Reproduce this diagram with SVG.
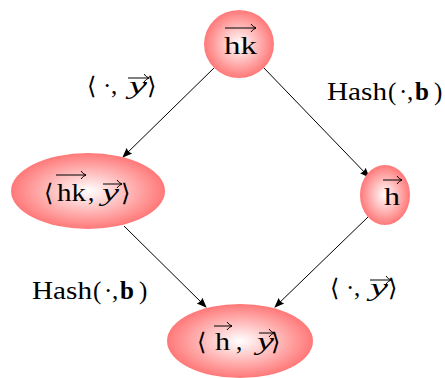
<svg xmlns="http://www.w3.org/2000/svg" width="445" height="378" viewBox="0 0 445 378">
<style>
text{font-family:"Liberation Serif","DejaVu Serif",serif;font-size:25px;fill:#000}
.it{font-style:italic}
.bd{font-weight:bold}
.br{font-family:"DejaVu Serif",serif;font-size:24px}
.ov{stroke:#000;stroke-width:1;fill:none}
.edge{stroke:#000;stroke-width:1;fill:none;marker-end:url(#ah)}
</style>
<defs>
<radialGradient id="g" cx="50%" cy="50%" r="50%">
<stop offset="0" stop-color="#ffffff"/>
<stop offset="1" stop-color="#ff7878"/>
</radialGradient>
<marker id="ah" viewBox="0 0 10 10" refX="9" refY="5" markerWidth="10" markerHeight="10" markerUnits="userSpaceOnUse" orient="auto">
<path d="M0,1 L10,5 L0,9 Q2,5 0,1 Z" fill="#000"/>
</marker>
</defs>
<g id="connectors">
<line class="edge" x1="215" y1="67" x2="123" y2="157"/>
<line class="edge" x1="263" y1="67" x2="369" y2="177"/>
<line class="edge" x1="124" y1="226" x2="206" y2="307"/>
<line class="edge" x1="368" y1="217" x2="275" y2="307"/>
</g>
<g id="node-hk">
<ellipse cx="239" cy="44" rx="35" ry="34" fill="url(#g)"/>
<text x="224" y="54" textLength="33" lengthAdjust="spacingAndGlyphs">hk</text>
<path class="ov" d="M225,28 H256 M251,24 Q253,27 256,28 Q253,29 251,32"/>
</g>
<g id="node-hk-y">
<ellipse cx="88" cy="191" rx="77" ry="38" fill="url(#g)"/>
<text class="br" x="44" y="201">⟨</text>
<text x="57" y="201" textLength="29" lengthAdjust="spacingAndGlyphs">hk</text>
<text x="88" y="201">,</text>
<text class="it" x="102" y="201" textLength="17" lengthAdjust="spacingAndGlyphs">y</text>
<text class="br" x="121" y="201">⟩</text>
<path class="ov" d="M56,175 H86 M81,171 Q83,174 86,175 Q83,176 81,179"/>
<path class="ov" d="M103,184 H122 M117,180 Q119,183 122,184 Q119,185 117,188"/>
</g>
<g id="node-h">
<ellipse cx="385" cy="195" rx="25" ry="30" fill="url(#g)"/>
<text x="384" y="205" textLength="16" lengthAdjust="spacingAndGlyphs">h</text>
<path class="ov" d="M383,180 H402 M397,176 Q399,179 402,180 Q399,181 397,184"/>
</g>
<g id="node-h-y">
<ellipse cx="240" cy="341" rx="73" ry="37" fill="url(#g)"/>
<text class="br" x="197" y="350">⟨</text>
<text x="215" y="350" textLength="15" lengthAdjust="spacingAndGlyphs">h</text>
<text x="236" y="350">,</text>
<text class="it" x="257" y="350" textLength="17" lengthAdjust="spacingAndGlyphs">y</text>
<text class="br" x="271" y="350">⟩</text>
<path class="ov" d="M214,326 H232 M227,322 Q229,325 232,326 Q229,327 227,330"/>
<path class="ov" d="M259,333 H274 M269,329 Q271,332 274,333 Q271,334 269,337"/>
</g>
<g id="labels">
<text class="br" x="87" y="94">⟨</text>
<text x="103" y="94">·</text>
<text x="111" y="94">,</text>
<text class="it" x="129" y="94" textLength="18" lengthAdjust="spacingAndGlyphs">y</text>
<text class="br" x="147" y="94">⟩</text>
<path class="ov" d="M128,78 H149 M144,74 Q146,77 149,78 Q146,79 144,82"/>
<text x="327" y="100" textLength="60" lengthAdjust="spacingAndGlyphs">Hash</text>
<text x="388" y="100">(</text>
<text x="399" y="100">·</text>
<text x="407" y="100">,</text>
<text class="bd" x="415" y="100">b</text>
<text x="434" y="100">)</text>
<text x="32" y="299" textLength="60" lengthAdjust="spacingAndGlyphs">Hash</text>
<text x="93" y="299">(</text>
<text x="104" y="299">·</text>
<text x="112" y="299">,</text>
<text class="bd" x="120" y="299">b</text>
<text x="139" y="299">)</text>
<text class="br" x="330" y="296">⟨</text>
<text x="346" y="296">·</text>
<text x="354" y="296">,</text>
<text class="it" x="370" y="296" textLength="18" lengthAdjust="spacingAndGlyphs">y</text>
<text class="br" x="388" y="296">⟩</text>
<path class="ov" d="M370,280 H391 M386,276 Q388,279 391,280 Q388,281 386,284"/>
</g>
</svg>
